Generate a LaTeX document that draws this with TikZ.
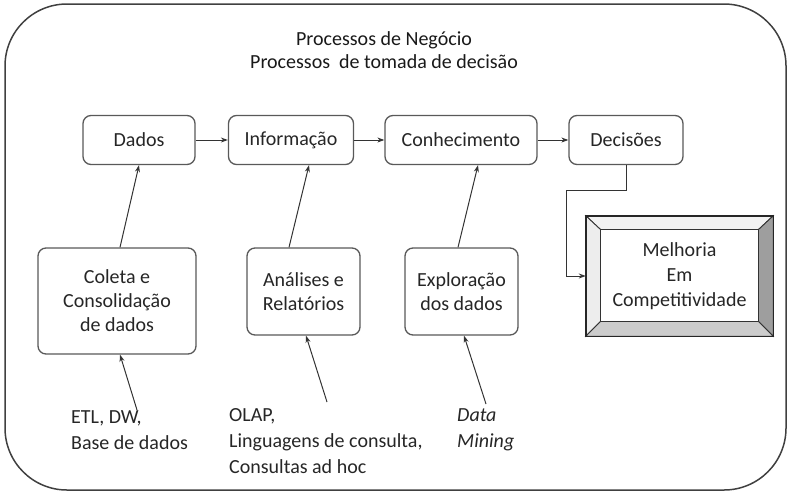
\documentclass[tikz,border=0pt]{standalone}
\usepackage{fontspec}
\setmainfont{Carlito}
\usetikzlibrary{arrows.meta,calc}
\begin{document}
\begin{tikzpicture}[x=1pt,y=-1pt,
  box/.style={draw=black!65, line width=1.3pt, rounded corners=8pt, fill=white, align=center,
    font=\fontsize{20}{24}\selectfont, text=black!85, inner sep=0pt},
  arr/.style={draw=black!80, line width=1pt, -{Stealth[length=7pt,width=5pt]}},
  lbl/.style={align=left, font=\fontsize{20}{26}\selectfont, text=black!85, inner sep=0pt, anchor=north west},
  bevel/.style={draw=black!80, line width=0.9pt, line join=miter}]
\useasboundingbox (0,0) rectangle (791,493);
% outer frame
\draw[black!75, line width=1.5pt, rounded corners=62pt] (5,4) rectangle (786,490);
% title
\node[align=center, font=\fontsize{20}{23}\selectfont, text=black!90] (title) at (384,50)
  {Processos de Negócio\\Processos\ \ de tomada de\ decisão};
% top row
\node[box, minimum width=112pt, minimum height=49pt] (dados) at (139,140) {Dados};
\node[box, minimum width=125pt, minimum height=49pt] (info) at (291,140) {Informação};
\node[box, minimum width=152pt, minimum height=49pt] (conh) at (461,140) {Conhecimento};
\node[box, minimum width=114pt, minimum height=49pt] (dec) at (626,140) {Decisões};
\draw[arr] (dados) -- (info);
\draw[arr] (info) -- (conh);
\draw[arr] (conh) -- (dec);
% bottom boxes
\node[box, minimum width=158pt, minimum height=106pt] (coleta) at (117,301) {Coleta e\\Consolidação\\de dados};
\node[box, minimum width=113pt, minimum height=87pt] (anal) at (303.5,291.5) {Análises e\\Relatórios};
\node[box, minimum width=113pt, minimum height=87pt] (expl) at (461.5,291.5) {Exploração\\dos dados};
\draw[arr] ([xshift=3pt]coleta.north) -- (dados.south);
\draw[arr] ([xshift=-14.5pt]anal.north) -- ([xshift=18pt]info.south);
\draw[arr] ([xshift=-3.5pt]expl.north) -- ([xshift=17pt]conh.south);
% labels
\node[lbl] (etl) at (71,410) {ETL, DW,\\Base de dados};
\node[lbl] (olap) at (229,408) {OLAP,\\Linguagens de consulta,\\Consultas ad hoc};
\node[lbl, font=\fontsize{20}{26}\selectfont\itshape] (dm) at (457,408) {Data\\Mining};
\coordinate (etlarr) at (137,410);
\coordinate (olaparr) at (327,402);
\coordinate (dmarr) at (486,404);
\draw[arr] (etlarr) -- ([xshift=3pt]coleta.south);
\draw[arr] (olaparr) -- ([xshift=2.5pt]anal.south);
\draw[arr] (dmarr) -- ([xshift=2.5pt]expl.south);
% bevel box
\node[minimum width=187pt, minimum height=120pt, inner sep=0pt] (melh) at (679.5,276) {};
\coordinate (inw) at ($(melh.north west)+(15,14)$);
\coordinate (ine) at ($(melh.north east)+(-15,14)$);
\coordinate (isw) at ($(melh.south west)+(15,-15)$);
\coordinate (ise) at ($(melh.south east)+(-15,-15)$);
\filldraw[bevel, fill=black!5] (melh.north west) -- (melh.north east) -- (ine) -- (inw) -- cycle;
\filldraw[bevel, fill=black!7] (melh.north west) -- (inw) -- (isw) -- (melh.south west) -- cycle;
\filldraw[bevel, fill=black!38] (melh.north east) -- (melh.south east) -- (ise) -- (ine) -- cycle;
\filldraw[bevel, fill=black!20] (melh.south west) -- (melh.south east) -- (ise) -- (isw) -- cycle;
\filldraw[bevel, fill=white] (inw) rectangle (ise);
\draw[black!85, line width=1.4pt] (melh.north west) rectangle (melh.south east);
\node[align=center, font=\fontsize{20}{25}\selectfont, text=black!85] (melhtxt) at (melh.center) {Melhoria\\Em\\Competitividade};
\draw[arr] (dec.south) -- ++(0,25) -| ([xshift=-19pt]melh.west) -- (melh.west);
\end{tikzpicture}
\end{document}
